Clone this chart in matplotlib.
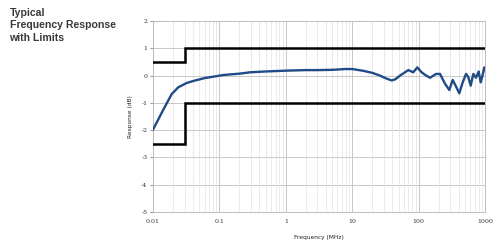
import matplotlib
matplotlib.use("Agg")
import matplotlib.pyplot as plt
import numpy as np

# Data
freq_mhz = [0.01, 0.0143, 0.0191, 0.024, 0.0322, 0.043, 0.0606, 0.086, 0.114, 0.2, 0.29, 0.5,
            1.0, 2.0, 3.0, 5.0, 8.0, 10.0, 15.0, 20.0, 26.2, 32.0, 39.4, 45.0, 52.5, 70.0, 83.0,
            95.5, 111.0, 130.0, 149.0, 183.0, 210.0, 250.0, 290.0, 326.0, 366.0, 410.0, 461.0,
            518.0, 561.0, 609.0, 667.0, 732.0, 804.0, 861.0, 923.0, 977.0, 1000.0]
response_db = [-1.98, -1.25, -0.68, -0.43, -0.27, -0.18, -0.09, -0.03, 0.02, 0.07, 0.12, 0.15,
               0.18, 0.2, 0.2, 0.21, 0.24, 0.24, 0.17, 0.1, 0.0, -0.1, -0.18, -0.13, 0.0, 0.2, 0.12,
               0.3, 0.12, 0.0, -0.08, 0.06, 0.06, -0.3, -0.53, -0.16, -0.4, -0.65, -0.25,
               0.06, -0.06, -0.37, 0.06, -0.08, 0.15, -0.25, 0.03, 0.3, 0.2]

upper_f = [0.01, 0.03, 0.03, 1000]
upper_db = [0.5, 0.5, 1.0, 1.0]
lower_f = [0.01, 0.03, 0.03, 1000]
lower_db = [-2.5, -2.5, -1.0, -1.0]

xticks = [0.01, 0.1, 1, 10, 100, 1000]
xticklabels = ["0.01", "0.1", "1", "10", "100", "1000"]
yticks = [2, 1, 0, -1, -2, -3, -4, -5]

fig = plt.figure(figsize=(5.0, 2.44), dpi=100)
ax = fig.add_axes([0.306, 0.131, 0.664, 0.783])

ax.set_xscale("log")
ax.set_xlim(0.01, 1000)
ax.set_ylim(-5, 2)

ax.plot(upper_f, upper_db, color="black", lw=1.8, solid_joinstyle="miter", zorder=3)
ax.plot(lower_f, lower_db, color="black", lw=1.8, solid_joinstyle="miter", zorder=3)
ax.plot(freq_mhz, response_db, color="#1f4b86", lw=1.7, zorder=4,
        solid_joinstyle="round", solid_capstyle="round")

ax.set_xticks(xticks)
ax.set_xticklabels(xticklabels)
ax.set_yticks(yticks)
ax.set_yticklabels([str(v) for v in yticks])
ax.xaxis.set_minor_locator(matplotlib.ticker.LogLocator(base=10, subs=np.arange(2, 10), numticks=20))
ax.xaxis.set_minor_formatter(matplotlib.ticker.NullFormatter())

ax.grid(True, which="major", color="#c8c8c8", lw=0.7)
ax.grid(True, which="minor", axis="x", color="#cfcfcf", lw=0.6, ls=(0, (1, 1)))

for s in ax.spines.values():
    s.set_color("#bdbdbd")
    s.set_linewidth(0.7)

ax.tick_params(axis="both", which="major", labelsize=4.5, length=2, color="#999999",
               labelcolor="#333333", pad=2)
ax.tick_params(axis="x", which="major", length=0, pad=5)
ax.tick_params(axis="x", which="minor", length=0)
for lbl in ax.get_xticklabels() + ax.get_yticklabels():
    lbl.set_family("DejaVu Serif")

ax.set_xlabel("Frequency (MHz)", fontsize=4.2, color="#222222", labelpad=8)
ax.set_ylabel("Response (dB)", fontsize=4.2, color="#222222", labelpad=6)

fig.text(0.019, 0.968, "Typical\nFrequency Response\nwith Limits", fontsize=7.6, fontweight="bold",
         color="#3a3a3a", va="top", ha="left", linespacing=1.3,
         family=["Liberation Sans Narrow", "Liberation Sans"])

fig.savefig("out.png", dpi=100)
